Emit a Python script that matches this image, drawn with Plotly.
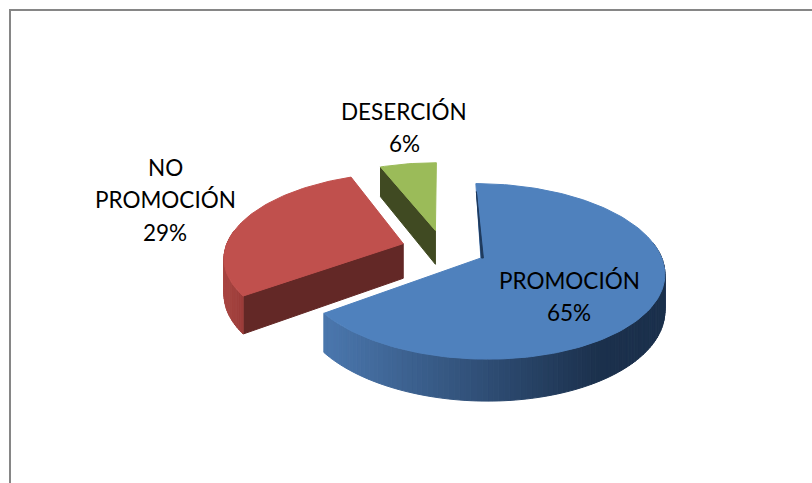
import math
import plotly.graph_objects as go

categories = ["PROMOCIÓN", "NO PROMOCIÓN", "DESERCIÓN"]
values = [65, 29, 6]
label_lines = [["PROMOCIÓN"], ["NO", "PROMOCIÓN"], ["DESERCIÓN"]]
label_centres = [(569, 280), (165, 167), (404, 111)]
label_step = 32.5

top_colors = ["#4f81bd", "#c0504d", "#9bbb59"]
edge_colors = ["#1f3a5c", "#632826", "#404a22"]
rim_from = [(74, 118, 172), (170, 70, 66), (120, 145, 70)]
rim_to = [(27, 48, 76), (150, 58, 55), (120, 145, 70)]

CX, CY = 443.0, 249.0
AX, AY = 178.0, 83.0
PERSP, EXPLODE, DEPTH = 0.15, 0.235, 35.0
BORDER = "#868686"


def project(x, y, z=0.0):
    s = 1.0 / (1.0 - PERSP * y)
    return CX + AX * x * s, CY + AY * y * s + z * s


def polygon(pts, color):
    xs = [p[0] for p in pts] + [pts[0][0]]
    ys = [p[1] for p in pts] + [pts[0][1]]
    return go.Scatter(x=xs, y=ys, mode="lines", fill="toself", fillcolor=color,
                      line=dict(color=color, width=1), hoverinfo="skip", showlegend=False)


fig = go.Figure()
total = sum(values)
spans = []
a = 0.0
for v in values:
    spans.append((a, a + 360.0 * v / total))
    a += 360.0 * v / total


def rim(i, t, z=0.0):
    a0, a1 = spans[i]
    mid = math.radians((a0 + a1) / 2)
    ox, oy = EXPLODE * math.sin(mid), -EXPLODE * math.cos(mid)
    r = math.radians(t)
    return project(ox + math.sin(r), oy - math.cos(r), z)


def apex(i, z=0.0):
    a0, a1 = spans[i]
    mid = math.radians((a0 + a1) / 2)
    return project(EXPLODE * math.sin(mid), -EXPLODE * math.cos(mid), z)


def faces_viewer(angle):
    return -math.cos(math.radians(angle)) > 0.01


for i in [2, 1, 0]:
    a0, a1 = spans[i]
    n = max(2, int((a1 - a0) / 1.5))
    ts = [a0 + (a1 - a0) * k / n for k in range(n + 1)]
    # straight inner walls, only those turned towards the viewer
    if faces_viewer(a1 + 90):
        fig.add_trace(polygon([rim(i, a1), apex(i), apex(i, DEPTH), rim(i, a1, DEPTH)], edge_colors[i]))
    if faces_viewer(a0 - 90):
        fig.add_trace(polygon([rim(i, a0), apex(i), apex(i, DEPTH), rim(i, a0, DEPTH)], edge_colors[i]))
    # outer wall on the near half of the disc, shaded by horizontal position
    xlo, xhi = 328.0, 600.0
    if i == 1:
        xlo, xhi = 222.0, 250.0
    for k in range(n):
        t0, t1 = ts[k], ts[k + 1]
        if -math.cos(math.radians((t0 + t1) / 2)) < -0.17:
            continue
        xm = (rim(i, t0)[0] + rim(i, t1)[0]) / 2
        f = min(1.0, max(0.0, (xm - xlo) / (xhi - xlo)))
        c = [round(rim_from[i][j] + (rim_to[i][j] - rim_from[i][j]) * f) for j in range(3)]
        col = f"rgb({c[0]},{c[1]},{c[2]})"
        fig.add_trace(polygon([rim(i, t0), rim(i, t1), rim(i, t1, DEPTH), rim(i, t0, DEPTH)], col))
    # top face
    fig.add_trace(polygon([apex(i)] + [rim(i, t) for t in ts], top_colors[i]))

# thin dark shadow along the first edge of the largest slice
p0, p1 = rim(0, spans[0][0]), apex(0)
fig.add_trace(polygon([(p0[0] + 0.5, p0[1] + 8), (p1[0] + 0.5, p1[1]), (p1[0] + 2.5, p1[1]), (p0[0] + 0.8, p0[1] + 8)],
                      edge_colors[0]))

annotations = []
for lines, v, (cx, cy) in zip(label_lines, values, label_centres):
    for j, line in enumerate(lines + [f"{v}%"]):
        annotations.append(dict(x=cx, y=cy + j * label_step, text=line, showarrow=False,
                                xref="x", yref="y", xanchor="center", yanchor="middle",
                                font=dict(family="Lato", size=22.5, color="#000000")))

fig.update_layout(
    width=812, height=483, margin=dict(l=0, r=0, t=0, b=0),
    paper_bgcolor="white", plot_bgcolor="white", showlegend=False,
    xaxis=dict(range=[0, 812], visible=False, fixedrange=True),
    yaxis=dict(range=[483, 0], visible=False, fixedrange=True),
    annotations=annotations,
    shapes=[dict(type="rect", xref="x", yref="y", x0=10, y0=10, x1=840, y1=520,
                 line=dict(color=BORDER, width=2), layer="below")],
)
fig.write_html("out.html", post_script="document.body.style.margin='0';", config=dict(displayModeBar=False))
